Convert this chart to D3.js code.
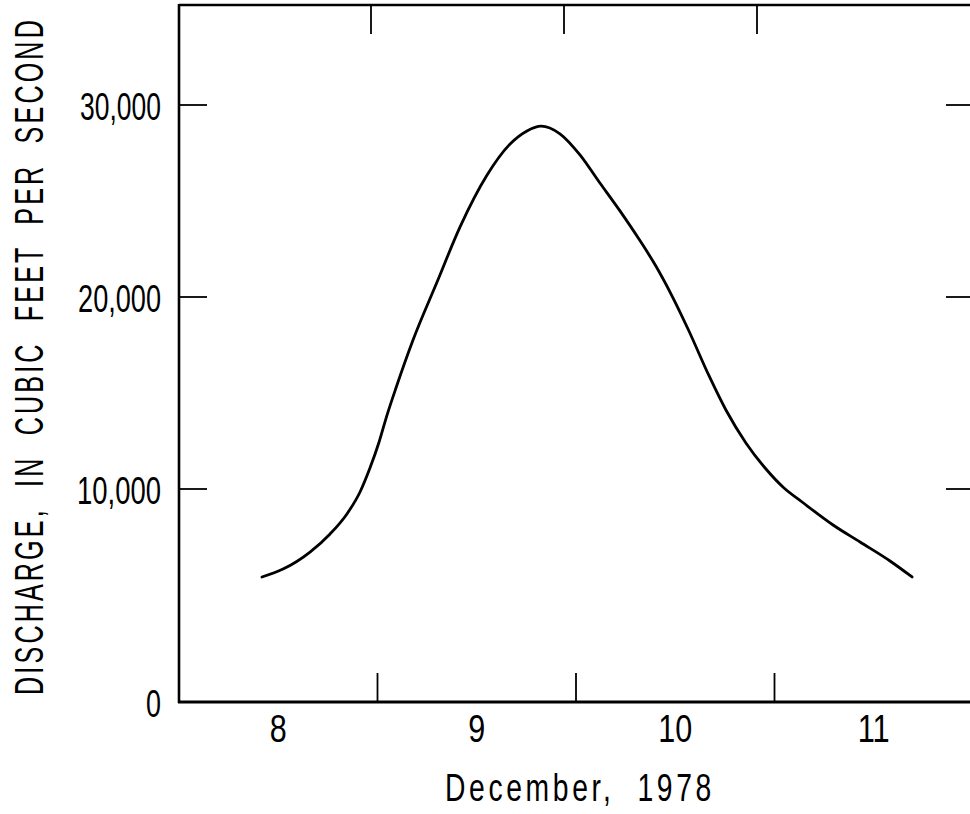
<!DOCTYPE html>
<html>
<head>
<meta charset="utf-8">
<script src="https://cdn.jsdelivr.net/npm/d3@7"></script>
<style>
  html, body { margin: 0; padding: 0; background: #fff; }
  svg { display: block; }
  text { font-family: "Liberation Sans Narrow", "Liberation Sans", "DejaVu Sans Condensed", sans-serif; fill: #000; white-space: pre; }
</style>
</head>
<body>
<svg id="chart" width="970" height="814"></svg>
<script>
const days = [8.418, 8.524, 8.660, 8.761, 8.846, 8.912, 8.962, 9.008, 9.048, 9.093,
              9.179, 9.300, 9.416, 9.552, 9.668, 9.753, 9.824, 9.919, 10.020, 10.116,
              10.217, 10.317, 10.403, 10.484, 10.569, 10.670, 10.756, 10.856, 10.957, 11.048,
              11.139, 11.295, 11.431, 11.582, 11.693];
const discharge = [5870, 6240, 7040, 7890, 8830, 9860, 11090, 12450, 13850, 15260,
                   17760, 20780, 23650, 26350, 27970, 28650, 28900, 28500, 27400, 26000,
                   24550, 23020, 21600, 20050, 18230, 15900, 14100, 12400, 11040, 10050,
                   9390, 8310, 7510, 6620, 5870];
const dayTicks = [9, 10, 11];              // day boundaries (tick marks)
const dayLabels = ["8", "9", "10", "11"];  // labels centred in each day
const dayLabelPos = [8.5, 9.5, 10.5, 11.5];
const yTickValues = [0, 10000, 20000, 30000];
const yTickLabels = ["0", "10,000", "20,000", "30,000"];
const yTitle = "DISCHARGE,  IN  CUBIC  FEET  PER  SECOND";
const xTitle = "December,  1978";

// ---- scales ----
const svg = d3.select("#chart");
const x = d3.scaleLinear().domain([8, 12]).range([179, 973]);
const xTop = d3.scaleLinear().domain([8, 12]).range([178, 950]); // top edge drafted slightly offset
const y = d3.scaleLinear().domain([0, 10000, 30000]).range([702, 489, 105]);
const fTop = 5, fLeft = 179, fBottom = y(0), fRight = 973;

svg.append("rect").attr("width", 970).attr("height", 814).attr("fill", "#fff");

// ---- frame ----
const frame = svg.append("g").attr("stroke", "#000").attr("fill", "none");
frame.append("line").attr("x1", fLeft).attr("x2", fLeft).attr("y1", fTop - 1).attr("y2", fBottom + 1).attr("stroke-width", 2.6);
frame.append("line").attr("x1", fLeft).attr("x2", fRight).attr("y1", fTop).attr("y2", fTop).attr("stroke-width", 2.6);
frame.append("line").attr("x1", fLeft - 1).attr("x2", fRight).attr("y1", fBottom).attr("y2", fBottom).attr("stroke-width", 2.8);
frame.append("line").attr("x1", fRight).attr("x2", fRight).attr("y1", fTop).attr("y2", fBottom).attr("stroke-width", 2.6);

// ---- ticks (inward) ----
const ticks = svg.append("g").attr("stroke", "#000").attr("stroke-width", 1.8);
dayTicks.forEach(d => {
  ticks.append("line").attr("x1", x(d)).attr("x2", x(d)).attr("y1", fBottom).attr("y2", fBottom - 29);
  ticks.append("line").attr("x1", xTop(d)).attr("x2", xTop(d)).attr("y1", fTop).attr("y2", fTop + 29);
});
yTickValues.filter(v => v > 0).forEach(v => {
  ticks.append("line").attr("x1", fLeft).attr("x2", fLeft + 28).attr("y1", y(v)).attr("y2", y(v));
  ticks.append("line").attr("x1", fRight - 27).attr("x2", fRight).attr("y1", y(v)).attr("y2", y(v));
});

// helper: condense a text horizontally (in its own frame) to a target width
function condense(sel, target, baseTransform) {
  const w = sel.node().getComputedTextLength();
  const k = w > 0 ? target / w : 1;
  sel.attr("transform", baseTransform + " scale(" + k + ",1)");
}

// ---- y tick labels ----
const yLabW = {"0": 15, "10,000": 84, "20,000": 83, "30,000": 81};
yTickValues.forEach((v, i) => {
  const t = svg.append("text")
    .attr("text-anchor", "end")
    .attr("font-size", 39)
    .text(yTickLabels[i]);
  condense(t, yLabW[yTickLabels[i]], "translate(161," + (y(v) + 15) + ")");
});

// ---- x labels ----
const xLabW = {"8": 17, "9": 17, "10": 34, "11": 32};
dayLabels.forEach((lab, i) => {
  const t = svg.append("text")
    .attr("text-anchor", "middle")
    .attr("font-size", 39)
    .text(lab);
  condense(t, xLabW[lab], "translate(" + x(dayLabelPos[i]) + ",742)");
});

// ---- axis titles ----
const xt = svg.append("text")
  .attr("text-anchor", "middle")
  .attr("font-size", 39)
  .attr("letter-spacing", 5)
  .text(xTitle);
condense(xt, 270, "translate(580,801)");

const yt = svg.append("text")
  .attr("text-anchor", "middle")
  .attr("font-size", 40)
  .attr("letter-spacing", 5)
  .text(yTitle);
condense(yt, 678, "translate(43,356) rotate(-90)");

// ---- hydrograph ----
const data = days.map((d, i) => ({t: d, q: discharge[i]}));
const line = d3.line().x(d => x(d.t)).y(d => y(d.q)).curve(d3.curveMonotoneX);
svg.append("path")
  .datum(data)
  .attr("d", line)
  .attr("fill", "none")
  .attr("stroke", "#000")
  .attr("stroke-width", 2.8)
  .attr("stroke-linecap", "round")
  .attr("stroke-linejoin", "round");
</script>
</body>
</html>
